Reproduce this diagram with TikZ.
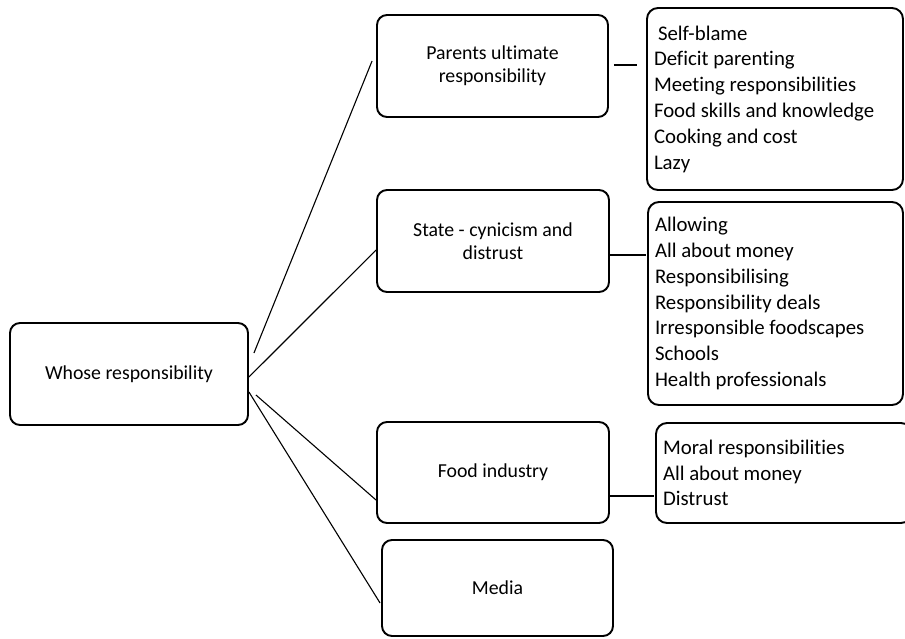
\documentclass[tikz,border=0pt]{standalone}
\usepackage{fontspec}
\setmainfont{Carlito}[Ligatures=NoCommon]
\usetikzlibrary{calc}

% natural inter-word spacing inside aligned nodes
\newcommand{\plainspaces}{\spaceskip=0pt\xspaceskip=0pt}

\tikzset{
  box/.style={draw, line width=1.9pt, rounded corners=10pt, inner sep=0pt},
  topic/.style={box, align=center, font=\fontsize{19.8}{23}\selectfont},
  theme/.style={box, rounded corners=11pt, align=left, inner xsep=7pt,
                font=\fontsize{20.8}{25.8}\selectfont},
  link/.style={line width=1.1pt}
}

\begin{document}
\begin{tikzpicture}[x=1pt, y=-1pt]
  \useasboundingbox (0,0) rectangle (905,638);
  \clip (0,0) rectangle (905,638);

  % central question
  \node[topic, minimum width=238pt, minimum height=102pt] (whose) at (129,374) {\plainspaces Whose responsibility};

  % the four parties
  \node[topic, minimum width=231pt, minimum height=102pt] (parents) at (492.5,66) {\plainspaces Parents ultimate\\responsibility};
  \node[topic, minimum width=232pt, minimum height=102pt] (state) at (493,241) {\plainspaces State - cynicism and\\distrust};
  \node[topic, minimum width=232pt, minimum height=101pt] (food) at (493,472.5) {\plainspaces Food industry};
  \node[topic, minimum width=231pt, minimum height=96pt] (media) at (497.5,588) {Media};

  % sub-themes
  \node[theme, minimum width=256pt, minimum height=182pt, text width=242pt] (r1) at (775,99)
    {\plainspaces\hspace{4pt}Self-blame\\Deficit parenting\\Meeting responsibilities\\Food skills and knowledge\\Cooking and cost\\Lazy};
  \node[theme, minimum width=255pt, minimum height=203pt, text width=241pt] (r2) at (775.5,303.5)
    {\plainspaces Allowing\\All about money\\Responsibilising\\Responsibility deals\\Irresponsible foodscapes\\Schools\\Health professionals};
  \node[theme, minimum width=256pt, minimum height=100pt, text width=242pt, inner xsep=6pt] (r3) at (784,473)
    {\plainspaces Moral responsibilities\\All about money\\Distrust};

  % connectors from the central question
  \draw[link] ([shift={(5,-21)}]whose.east) -- ([shift={(-4,-5)}]parents.west);
  \draw[link] ([shift={(0,3)}]whose.east) -- ([shift={(0,9)}]state.west);
  \draw[link] ([shift={(7,21)}]whose.east) -- ([shift={(0,27.5)}]food.west);
  \draw[link] ([shift={(0,18)}]whose.east) -- ([shift={(-1,15)}]media.west);

  % connectors to the sub-themes
  \draw[link] ([shift={(5,-1)}]parents.east) -- ([shift={(-9,-34)}]r1.west);
  \draw[link] ([shift={(0,14)}]state.east) -- ([shift={(-1,-48.5)}]r2.west);
  \draw[link] ([shift={(0,23.5)}]food.east) -- ([shift={(-1,23)}]r3.west);
\end{tikzpicture}
\end{document}
